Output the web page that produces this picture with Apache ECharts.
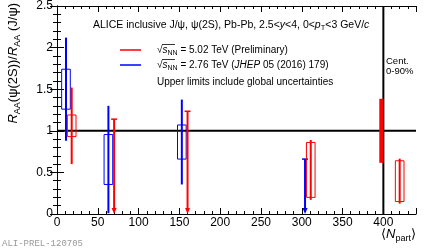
<!DOCTYPE html>
<html><head><meta charset="utf-8">
<script src="https://cdn.jsdelivr.net/npm/echarts@6/dist/echarts.min.js"></script>
<style>html,body{margin:0;padding:0;background:#fff}#c{width:424px;height:250px}</style>
</head><body><div id="c"></div>
<script>
// ---- data ----
const xTickLabels = [0, 50, 100, 150, 200, 250, 300, 350, 400];
const yTickLabels = [0, 0.5, 1, 1.5, 2, 2.5];
// sqrt(sNN) = 5.02 TeV (Preliminary)
const npart502 = [18, 311, 420];
const ratio502 = [1.06, 0.53, 0.395];
const stat502 = [0.46, 0.36, 0.27];
const syst502 = [0.13, 0.33, 0.245];
const ulNpart502 = [70, 160];
const ulValue502 = [1.14, 1.235];
// sqrt(sNN) = 2.76 TeV (JHEP 05 (2016) 179)
const npart276 = [11, 63, 153];
const ratio276 = [1.50, 0.655, 0.865];
const stat276 = [0.62, 0.645, 0.51];
const syst276 = [0.24, 0.30, 0.205];
const ulNpart276 = [304];
const ulValue276 = [0.66];
// global uncertainty (Cent. 0-90%)
const globalNpart = [397.5];
const globalValue = [1];
const globalUnc = [0.385];
const refLineY = [1];
const refLineX = [400];

// ---- rendering ----
const RED = '#ff0000', BLUE = '#0000ff';
const BOX_HALF = 5.3;
const FONT = 'Liberation Sans';

function pointsRender(color) {
  return function (params, api) {
    const x = api.value(0), y = api.value(1), st = api.value(2), sy = api.value(3);
    const top = api.coord([x, y + st]);
    const bot = api.coord([x, Math.max(0, y - st)]);
    const b1 = api.coord([x - BOX_HALF, y + sy]);
    const b2 = api.coord([x + BOX_HALF, y - sy]);
    return { type: 'group', children: [
      { type: 'rect', shape: { x: b1[0], y: b1[1], width: b2[0] - b1[0], height: b2[1] - b1[1] },
        style: { fill: 'none', stroke: color, lineWidth: 1 } },
      { type: 'line', shape: { x1: top[0], y1: top[1], x2: bot[0], y2: bot[1] },
        style: { stroke: color, lineWidth: 2 } }
    ]};
  };
}
function ulRender(color) {
  return function (params, api) {
    const x = api.value(0), y = api.value(1);
    const t = api.coord([x, y]);
    const b = api.coord([x, 0]);
    return { type: 'group', children: [
      { type: 'line', shape: { x1: t[0], y1: t[1], x2: b[0], y2: b[1] - 4 }, style: { stroke: color, lineWidth: 2 } },
      { type: 'line', shape: { x1: t[0] - 3, y1: t[1], x2: t[0] + 3, y2: t[1] }, style: { stroke: color, lineWidth: 1.5 } },
      { type: 'polygon', shape: { points: [[b[0] - 2.5, b[1] - 6], [b[0] + 2.5, b[1] - 6], [b[0], b[1]]] }, style: { fill: color } }
    ]};
  };
}
function globalRender(params, api) {
  const x = api.value(0), y = api.value(1), u = api.value(2);
  const p1 = api.coord([x - 2.5, y + u]);
  const p2 = api.coord([x + 2.5, y - u]);
  return { type: 'rect', shape: { x: p1[0], y: p1[1], width: p2[0] - p1[0], height: p2[1] - p1[1] }, style: { fill: RED } };
}
function refRender(params, api) {
  const lines = [];
  refLineY.forEach(v => { const a = api.coord([0, v]), b = api.coord([440, v]);
    lines.push({ type: 'line', shape: { x1: a[0], y1: a[1], x2: b[0], y2: b[1] }, style: { stroke: '#000', lineWidth: 2 } }); });
  refLineX.forEach(v => { const a = api.coord([v, 0]), b = api.coord([v, 2.5]);
    lines.push({ type: 'line', shape: { x1: a[0], y1: a[1], x2: b[0], y2: b[1] }, style: { stroke: '#000', lineWidth: 2 } }); });
  return { type: 'group', children: lines };
}

const pts502 = npart502.map((x, i) => [x, ratio502[i], stat502[i], syst502[i]]);
const pts276 = npart276.map((x, i) => [x, ratio276[i], stat276[i], syst276[i]]);
const ul502 = ulNpart502.map((x, i) => [x, ulValue502[i]]);
const ul276 = ulNpart276.map((x, i) => [x, ulValue276[i]]);
const glob = globalNpart.map((x, i) => [x, globalValue[i], globalUnc[i]]);

function xAx(pos, interval, len, labels) {
  return { type: 'value', position: pos, min: 0, max: 440, interval: interval,
    axisLine: { show: labels, lineStyle: { color: '#000', width: 1 } },
    axisTick: { show: true, inside: true, length: len, lineStyle: { color: '#000', width: 1 } },
    axisLabel: { show: labels && pos === 'bottom', margin: 3, fontFamily: FONT, fontSize: 12, color: '#000',
      formatter: v => xTickLabels.includes(v) ? String(v) : '' },
    splitLine: { show: false } };
}
function yAx(pos, labels) {
  return { type: 'value', position: pos, min: 0, max: 2.5, interval: 0.5,
    axisLine: { show: true, lineStyle: { color: '#000', width: 1 } },
    axisTick: { show: true, inside: true, length: 7, lineStyle: { color: '#000', width: 1 } },
    minorTick: { show: true, splitNumber: 5, length: 4, lineStyle: { color: '#000', width: 1 } },
    axisLabel: { show: labels, margin: 4, fontFamily: FONT, fontSize: 12, color: '#000',
      formatter: v => yTickLabels.includes(v) ? String(v) : '' },
    splitLine: { show: false } };
}

const txt = { fontFamily: FONT, fill: '#000' };
const chart = echarts.init(document.getElementById('c'), null, { renderer: 'canvas' });
chart.setOption({
  animation: false,
  backgroundColor: '#fff',
  grid: { left: 57, right: 8, top: 5, bottom: 36 },
  xAxis: [xAx('bottom', 50, 6, true), xAx('bottom', 10, 3, false), xAx('top', 50, 6, true), xAx('top', 10, 3, false)],
  yAxis: [yAx('left', true), yAx('right', false)],
  series: [
    { type: 'custom', renderItem: refRender, data: [[0, 0]], z: 1, silent: true },
    { type: 'custom', renderItem: globalRender, data: glob, z: 2, silent: true, encode: { x: 0, y: 1 } },
    { type: 'custom', renderItem: pointsRender(BLUE), data: pts276, z: 3, silent: true, encode: { x: 0, y: 1 } },
    { type: 'custom', renderItem: ulRender(BLUE), data: ul276, z: 3, silent: true, encode: { x: 0, y: 1 } },
    { type: 'custom', renderItem: pointsRender(RED), data: pts502, z: 4, silent: true, encode: { x: 0, y: 1 } },
    { type: 'custom', renderItem: ulRender(RED), data: ul502, z: 4, silent: true, encode: { x: 0, y: 1 } }
  ],
  graphic: [
    { type: 'text', x: 13, y: 3, rotation: Math.PI / 2, z: 10,
      style: Object.assign({}, txt, { text: '{i|R}{s|AA}{n|(ψ(2S))/}{i|R}{s|AA}{n| (J/ψ)}', align: 'right', verticalAlign: 'middle',
        rich: { n: { fontSize: 13, fontFamily: FONT, lineHeight: 18, verticalAlign: 'middle' },
                i: { fontSize: 13, fontFamily: FONT, fontStyle: 'italic', lineHeight: 18, verticalAlign: 'middle' },
                s: { fontSize: 9, fontFamily: FONT, verticalAlign: 'bottom', padding: [8, 0, 0, 0] } } }) },
    { type: 'text', x: 416, y: 234, z: 10,
      style: Object.assign({}, txt, { text: '{n|⟨}{i|N}{s|part}{n|⟩}', align: 'right', verticalAlign: 'middle',
        rich: { n: { fontSize: 13, fontFamily: FONT, lineHeight: 18, verticalAlign: 'middle' },
                i: { fontSize: 13, fontFamily: FONT, fontStyle: 'italic', lineHeight: 18, verticalAlign: 'middle' },
                s: { fontSize: 9, fontFamily: FONT, verticalAlign: 'bottom', padding: [9, 0, 0, 0] } } }) },
    { type: 'text', x: 93, y: 25, z: 10,
      style: Object.assign({}, txt, { text: '{n|ALICE inclusive J/ψ, ψ(2S), Pb-Pb, 2.5<}{i|y}{n|<4, 0<}{i|p}{s|T}{n|<3 GeV/}{i|c}', verticalAlign: 'middle',
        rich: { n: { fontSize: 10.5, fontFamily: FONT, lineHeight: 14, verticalAlign: 'middle' },
                i: { fontSize: 10.5, fontFamily: FONT, fontStyle: 'italic', lineHeight: 14, verticalAlign: 'middle' },
                s: { fontSize: 7.5, fontFamily: FONT, verticalAlign: 'bottom', padding: [6, 0, 0, 0] } } }) },
    { type: 'line', shape: { x1: 120, y1: 50, x2: 141, y2: 50 }, style: { stroke: RED, lineWidth: 1.5 } },
    { type: 'line', shape: { x1: 120, y1: 65, x2: 141, y2: 65 }, style: { stroke: BLUE, lineWidth: 1.5 } },
    { type: 'text', x: 157, y: 50, z: 10,
      style: Object.assign({}, txt, { text: '{n|√}{i|s}{s|NN}{n| = 5.02 TeV (Preliminary)}', verticalAlign: 'middle',
        rich: { n: { fontSize: 10, fontFamily: FONT, lineHeight: 14, verticalAlign: 'middle' },
                i: { fontSize: 10, fontFamily: FONT, fontStyle: 'italic', lineHeight: 14, verticalAlign: 'middle' },
                s: { fontSize: 7, fontFamily: FONT, verticalAlign: 'bottom', padding: [6, 0, 0, 0] } } }) },
    { type: 'text', x: 157, y: 65, z: 10,
      style: Object.assign({}, txt, { text: '{n|√}{i|s}{s|NN}{n| = 2.76 TeV (}{i|JHEP}{n| 05 (2016) 179)}', verticalAlign: 'middle',
        rich: { n: { fontSize: 10, fontFamily: FONT, lineHeight: 14, verticalAlign: 'middle' },
                i: { fontSize: 10, fontFamily: FONT, fontStyle: 'italic', lineHeight: 14, verticalAlign: 'middle' },
                s: { fontSize: 7, fontFamily: FONT, verticalAlign: 'bottom', padding: [6, 0, 0, 0] } } }) },
    { type: 'line', shape: { x1: 162, y1: 44.5, x2: 175, y2: 44.5 }, style: { stroke: '#000', lineWidth: 0.8 } },
    { type: 'line', shape: { x1: 162, y1: 59.5, x2: 175, y2: 59.5 }, style: { stroke: '#000', lineWidth: 0.8 } },
    { type: 'text', x: 157, y: 82, z: 10,
      style: Object.assign({}, txt, { text: 'Upper limits include global uncertainties', fontSize: 10, verticalAlign: 'middle' }) },
    { type: 'text', x: 386, y: 66, z: 10,
      style: Object.assign({}, txt, { text: 'Cent.\n0-90%', fontSize: 9.5, lineHeight: 10, verticalAlign: 'middle' }) },
    { type: 'text', x: 2, y: 244, z: 10,
      style: { text: 'ALI-PREL-120705', fontFamily: 'Liberation Mono', fontSize: 9, fill: '#999', verticalAlign: 'middle' } }
  ]
});
</script></body></html>
